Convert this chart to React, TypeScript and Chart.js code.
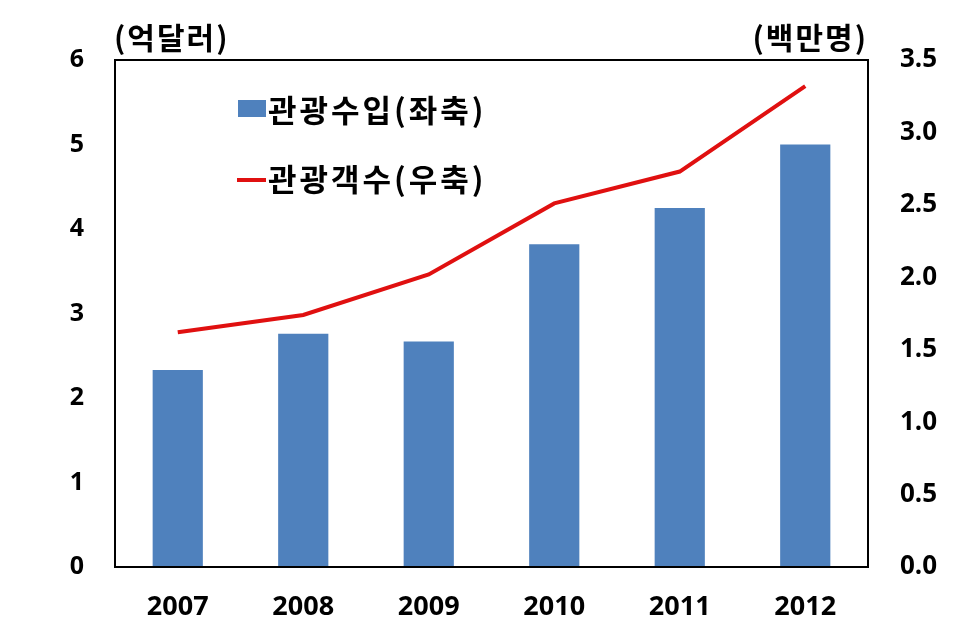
import React, { useEffect, useRef } from "react";
import { Chart, registerables } from "chart.js";

Chart.register(...registerables);

const categories = ["2007", "2008", "2009", "2010", "2011", "2012"];
const revenue = [2.33, 2.76, 2.67, 3.82, 4.25, 5.0];
const visitors = [1.62, 1.74, 2.02, 2.51, 2.73, 3.32];
const revenueLabel = "관광수입(좌축)";
const visitorsLabel = "관광객수(우축)";
const leftUnit = "(억달러)";
const rightUnit = "(백만명)";

const NUM_FONT = "'Open Sans', 'Noto Sans', sans-serif";
const KR_FONT = "'Noto Sans CJK KR', sans-serif";

const overlayPlugin = {
  id: "overlay",
  afterDatasetsDraw(chart: any) {
    const { ctx, chartArea } = chart;
    const { left, right, top, bottom } = chartArea;
    ctx.save();
    // box
    ctx.strokeStyle = "#000";
    ctx.lineWidth = 2;
    ctx.strokeRect(left, top, right - left, bottom - top);
    // units
    ctx.fillStyle = "#000";
    ctx.font = `bold 30px ${KR_FONT}`;
    (ctx as any).letterSpacing = "2px";
    ctx.textBaseline = "middle";
    ctx.textAlign = "left";
    ctx.fillText(leftUnit, left - 1, 38);
    ctx.textAlign = "right";
    ctx.fillText(rightUnit, right, 38);
    // legend
    ctx.textAlign = "left";
    ctx.font = `bold 31px ${KR_FONT}`;
    (ctx as any).letterSpacing = "3px";
    ctx.fillStyle = "#4F81BD";
    ctx.fillRect(238, 100, 28, 17);
    ctx.fillStyle = "#000";
    ctx.fillText(revenueLabel, 268, 110);
    ctx.strokeStyle = "#E01010";
    ctx.lineWidth = 4;
    ctx.beginPath();
    ctx.moveTo(237, 180);
    ctx.lineTo(266, 180);
    ctx.stroke();
    ctx.fillStyle = "#000";
    ctx.fillText(visitorsLabel, 268, 179);
    ctx.restore();
  },
};

export default function App() {
  const ref = useRef<HTMLCanvasElement>(null);
  useEffect(() => {
    document.body.style.margin = "0";
    const chart = new Chart(ref.current!, {
      type: "bar",
      data: {
        labels: categories,
        datasets: [
          {
            type: "line",
            label: visitorsLabel,
            data: visitors,
            yAxisID: "y2",
            borderColor: "#E01010",
            borderWidth: 4,
            pointRadius: 0,
            tension: 0,
            order: 0,
          },
          {
            type: "bar",
            label: revenueLabel,
            data: revenue,
            yAxisID: "y",
            backgroundColor: "#4F81BD",
            categoryPercentage: 1,
            barPercentage: 0.4,
            order: 1,
          },
        ],
      },
      options: {
        animation: false,
        responsive: false,
        layout: { padding: { top: 60, left: 0, right: 0, bottom: 0 } },
        plugins: { legend: { display: false }, tooltip: { enabled: false } },
        scales: {
          x: {
            grid: { display: false, drawTicks: false },
            border: { display: false },
            ticks: {
              color: "#000",
              font: { family: NUM_FONT, size: 27, weight: "bold" },
              padding: 24,
              maxRotation: 0,
            },
            afterFit(s: any) {
              s.height = 71;
            },
          },
          y: {
            position: "left",
            min: 0,
            max: 6,
            grid: { display: false, drawTicks: false },
            border: { display: false },
            ticks: {
              stepSize: 1,
              color: "#000",
              font: { family: NUM_FONT, size: 25, weight: "bold" },
              padding: 31,
            },
            afterFit(s: any) {
              s.width = 115;
            },
          },
          y2: {
            position: "right",
            min: 0,
            max: 3.5,
            grid: { display: false, drawTicks: false },
            border: { display: false },
            ticks: {
              stepSize: 0.5,
              color: "#000",
              font: { family: NUM_FONT, size: 26, weight: "bold" },
              padding: 32,
              callback: (v: any) => Number(v).toFixed(1),
            },
            afterFit(s: any) {
              s.width = 108;
            },
          },
        },
      },
      plugins: [overlayPlugin],
    });
    return () => chart.destroy();
  }, []);
  return <canvas ref={ref} width={976} height={638} style={{ display: "block" }} />;
}
